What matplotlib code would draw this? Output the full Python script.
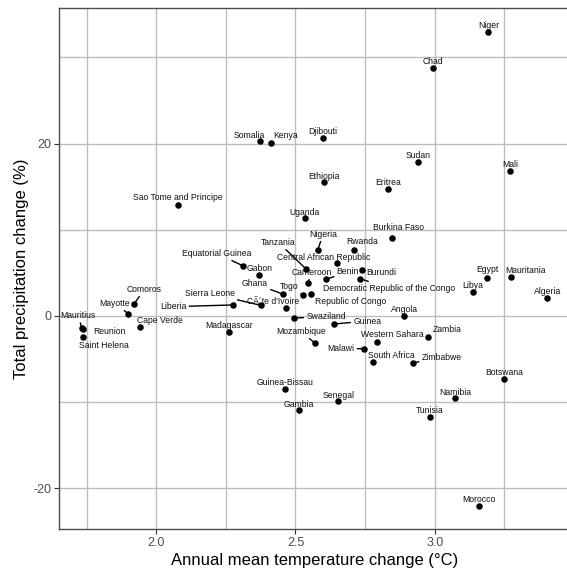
import matplotlib.pyplot as plt
from matplotlib.ticker import MultipleLocator

plt.rcParams['font.family'] = ['Liberation Sans', 'DejaVu Sans']
plt.rcParams['axes.unicode_minus'] = False

countries = ['Niger', 'Chad', 'Somalia', 'Kenya', 'Djibouti', 'Sudan', 'Mali', 'Ethiopia',
             'Eritrea', 'Sao Tome and Principe', 'Uganda', 'Burkina Faso', 'Nigeria', 'Rwanda',
             'Tanzania', 'Central African Republic', 'Equatorial Guinea', 'Gabon', 'Burundi',
             'Benin', 'Democratic Republic of the Congo', 'Cameroon', 'Togo', 'Republic of Congo',
             'Ghana', 'Sierra Leone', 'Liberia', "CÃ´te d'Ivoire", 'Comoros', 'Mayotte',
             'Mauritius', 'Reunion', 'Saint Helena', 'Cape Verde', 'Madagascar', 'Swaziland',
             'Guinea', 'Angola', 'Mozambique', 'Western Sahara', 'Zambia', 'Malawi',
             'South Africa', 'Zimbabwe', 'Botswana', 'Namibia', 'Tunisia', 'Senegal', 'Gambia',
             'Guinea-Bissau', 'Morocco', 'Egypt', 'Libya', 'Mauritania', 'Algeria']
temp_change = [3.193, 2.993, 2.371, 2.413, 2.599, 2.941, 3.272, 2.602,
               2.831, 2.079, 2.534, 2.846, 2.580, 2.711,
               2.538, 2.648, 2.310, 2.370, 2.740,
               2.610, 2.733, 2.544, 2.528, 2.557,
               2.454, 2.375, 2.274, 2.466, 1.921, 1.899,
               1.732, 1.738, 1.736, 1.943, 2.262, 2.493,
               2.638, 2.891, 2.571, 2.793, 2.977, 2.745,
               2.777, 2.921, 3.248, 3.074, 2.982, 2.654, 2.511,
               2.463, 3.159, 3.189, 3.138, 3.273, 3.404]
precip_change = [32.98, 28.81, 20.27, 20.10, 20.68, 17.90, 16.86, 15.51,
                 14.73, 12.91, 11.33, 9.08, 7.69, 7.66,
                 5.45, 6.11, 5.84, 4.79, 5.30,
                 4.26, 4.33, 3.79, 2.44, 2.52,
                 2.55, 1.24, 1.28, 0.89, 1.43, 0.27,
                 -1.36, -1.51, -2.40, -1.24, -1.82, -0.23,
                 -0.93, -0.03, -3.17, -2.98, -2.44, -3.79,
                 -5.30, -5.45, -7.31, -9.55, -11.75, -9.90, -10.94,
                 -8.50, -22.01, 4.37, 2.78, 4.49, 2.12]

# label offsets in pixels (repelled labels), default is just above the point
label_offsets = {
    'Somalia': (-10, 6), 'Kenya': (14, 7.5), 'Sao Tome and Principe': (0, 7),
    'Burkina Faso': (6.5, 10), 'Nigeria': (5.5, 15.5), 'Rwanda': (7.5, 8.3),
    'Tanzania': (-27.7, 26.7), 'Central African Republic': (-12.7, 6.3),
    'Equatorial Guinea': (-26, 12.4), 'Burundi': (19.4, -2.4), 'Benin': (21.7, 7.3),
    'Democratic Republic of the Congo': (29, -10), 'Cameroon': (4, 11),
    'Togo': (-14.3, 8.3), 'Republic of Congo': (39.7, -7.7), 'Ghana': (-27.7, 10.3),
    'Sierra Leone': (-51, 12), 'Liberia': (-59.4, -1.7), "CÃ´te d'Ivoire": (-12.7, 7.3),
    'Comoros': (10, 14.4), 'Mayotte': (-13.3, 10.4), 'Mauritius': (-3.4, 12),
    'Reunion': (26, -2), 'Saint Helena': (20.6, -8.6), 'Cape Verde': (19.7, 6.4),
    'Swaziland': (32.5, 1), 'Guinea': (33.3, 3), 'Mozambique': (-14.6, 12),
    'Western Sahara': (15.7, 6.7), 'Zambia': (18.4, 7.7), 'Malawi': (-22.7, 0),
    'South Africa': (18.3, 6), 'Zimbabwe': (29, 5.7), 'Egypt': (0, 9),
    'Libya': (0, 7), 'Mauritania': (15, 6.3),
}
with_segment = ['Nigeria', 'Tanzania', 'Equatorial Guinea', 'Benin',
                'Democratic Republic of the Congo', 'Cameroon', 'Togo', 'Republic of Congo',
                'Ghana', 'Sierra Leone', 'Liberia', 'Comoros', 'Mayotte', 'Mauritius',
                'Swaziland', 'Guinea', 'Mozambique', 'Malawi', 'Zimbabwe', 'Zambia']

W, H = 567, 572
fig = plt.figure(figsize=(W / 100, H / 100), dpi=100)
left, right, top, bottom = 59.3, 570, 8, 529
ax = fig.add_axes([left / W, (H - bottom) / H, (right - left) / W, (bottom - top) / H])

# pixel -> data scale
x0px, xscale = 156.3, 278.4
y0px, yscale = 316, 8.62
ax.set_xlim(2 + (left - x0px) / xscale, 2 + (right - x0px) / xscale)
ax.set_ylim((y0px - bottom) / yscale, (y0px - top) / yscale)

ax.xaxis.set_major_locator(MultipleLocator(0.5))
ax.xaxis.set_minor_locator(MultipleLocator(0.25))
ax.yaxis.set_major_locator(MultipleLocator(20))
ax.yaxis.set_minor_locator(MultipleLocator(10))
ax.grid(True, which='both', color='#bdbdbd', lw=1.0)
ax.set_axisbelow(True)
ax.tick_params(which='minor', length=0)
ax.tick_params(which='major', length=3.5, width=0.8, color='#333333',
               labelcolor='#4d4d4d', labelsize=9, pad=2)
ax.set_xticks([2.0, 2.5, 3.0])
ax.set_xticklabels(['2.0', '2.5', '3.0'])
for s in ['left', 'bottom', 'top', 'right']:
    ax.spines[s].set_color('#4d4d4d')
    ax.spines[s].set_linewidth(1.0)

ax.scatter(temp_change, precip_change, s=22, color='black', zorder=3, linewidths=0)

for name, x, y in zip(countries, temp_change, precip_change):
    dx, dy = label_offsets.get(name, (0, 6.3))
    if name in with_segment:
        ax.annotate(name, (x, y), xytext=(dx, dy), textcoords='offset pixels',
                    ha='center', va='center', fontsize=6.2, color='#111111',
                    arrowprops=dict(arrowstyle='-', color='black', lw=1.0,
                                    shrinkA=0, shrinkB=0))
    else:
        ax.annotate(name, (x, y), xytext=(dx, dy), textcoords='offset pixels',
                    ha='center', va='center', fontsize=6.2, color='#111111')

ax.set_xlabel('Annual mean temperature change (°C)', fontsize=12, labelpad=3)
ax.set_ylabel('Total precipitation change (%)', fontsize=12, labelpad=3)

plt.savefig('out.png', dpi=100)
